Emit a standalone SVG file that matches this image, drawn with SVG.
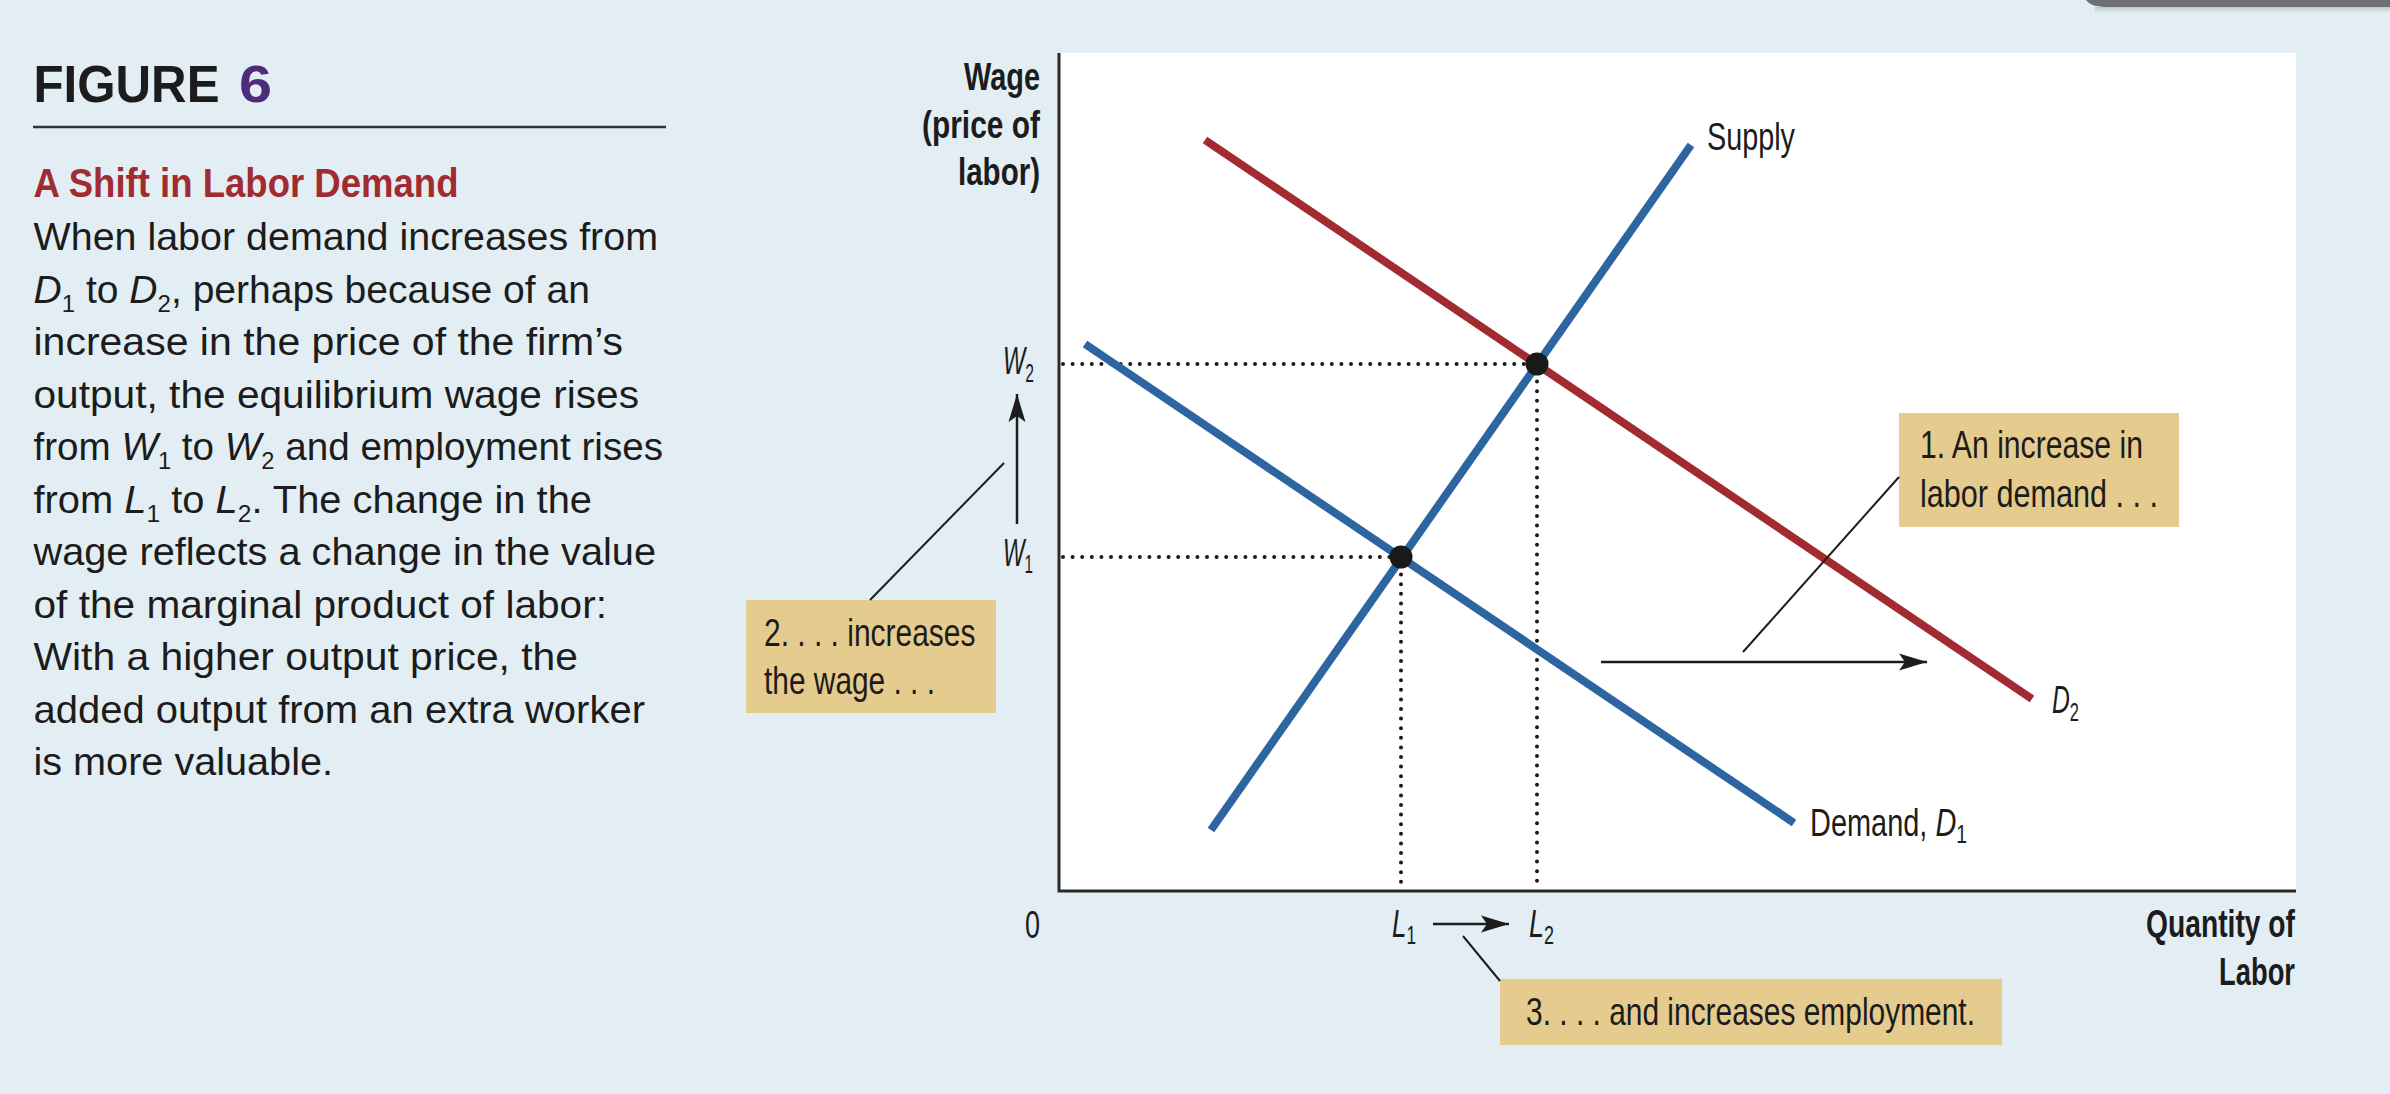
<svg xmlns="http://www.w3.org/2000/svg" width="2390" height="1094" viewBox="0 0 2390 1094">
<defs>
<style>
.t{font-family:"Liberation Sans",Arial,sans-serif;fill:#1c1c1c}
.body{font-size:39px}
.lbl{font-size:39px}
.ax{font-size:39px;font-weight:bold}
.i{font-style:italic}
.dot{stroke:#1a1a1a;stroke-width:4;stroke-linecap:round;stroke-dasharray:0 9.6;fill:none}
.curve{fill:none;stroke-width:8}
.blue{stroke:#2C65A0}
.red{stroke:#A12B31}
.lead{stroke:#1c1c1c;stroke-width:2;fill:none}
.arr{stroke:#1c1c1c;stroke-width:2.5;fill:none;marker-end:url(#ah)}
.box{fill:#E5CB8D}
.axis{stroke:#2b2b2b;stroke-width:3;fill:none}
</style>
<marker id="ah" markerUnits="userSpaceOnUse" viewBox="-29 -10 30 20" refX="0" refY="0" markerWidth="30" markerHeight="20" orient="auto">
<path d="M0,0 L-28,-8.5 L-22,0 L-28,8.5 Z" fill="#1c1c1c"/>
</marker>
<linearGradient id="sh" x1="0" y1="0" x2="0" y2="1">
<stop offset="0" stop-color="#b9c3c8"/>
<stop offset="1" stop-color="#E3EEF4" stop-opacity="0"/>
</linearGradient>
</defs>
<rect width="2390" height="1094" fill="#E3EEF4"/>
<g id="window-edge">
<rect x="2095" y="7" width="295" height="8" fill="url(#sh)"/>
<path d="M2086,0 C2090,5 2096,7 2108,7 L2390,7 L2390,0 Z" fill="#6E7275"/>
</g>
<g id="caption">
<text class="t" x="33.5" y="102" font-size="52" font-weight="bold" textLength="186" lengthAdjust="spacingAndGlyphs">FIGURE</text>
<text x="239" y="102" font-family="Liberation Sans,Arial,sans-serif" font-size="52" font-weight="bold" fill="#4D2C7C" textLength="33" lengthAdjust="spacingAndGlyphs">6</text>
<line x1="33" y1="127" x2="666" y2="127" stroke="#333" stroke-width="2.5"/>
<text x="33.5" y="197" font-family="Liberation Sans,Arial,sans-serif" font-size="41" font-weight="bold" fill="#A12B31" textLength="425" lengthAdjust="spacingAndGlyphs">A Shift in Labor Demand</text>
<text class="t body" x="33.5" y="250" textLength="624.5" lengthAdjust="spacingAndGlyphs">When labor demand increases from</text>
<text class="t body" x="33.5" y="302.5" textLength="556.5" lengthAdjust="spacingAndGlyphs"><tspan class="i">D</tspan><tspan font-size="24" dy="9">1</tspan><tspan dy="-9"> to </tspan><tspan class="i">D</tspan><tspan font-size="24" dy="9">2</tspan><tspan dy="-9">, perhaps because of an</tspan></text>
<text class="t body" x="33.5" y="355" textLength="589.5" lengthAdjust="spacingAndGlyphs">increase in the price of the firm’s</text>
<text class="t body" x="33.5" y="407.5" textLength="605.5" lengthAdjust="spacingAndGlyphs">output, the equilibrium wage rises</text>
<text class="t body" x="33.5" y="460" textLength="629.5" lengthAdjust="spacingAndGlyphs">from <tspan class="i">W</tspan><tspan font-size="24" dy="9">1</tspan><tspan dy="-9"> to </tspan><tspan class="i">W</tspan><tspan font-size="24" dy="9">2</tspan><tspan dy="-9"> and employment rises</tspan></text>
<text class="t body" x="33.5" y="512.5" textLength="558.5" lengthAdjust="spacingAndGlyphs">from <tspan class="i">L</tspan><tspan font-size="24" dy="9">1</tspan><tspan dy="-9"> to </tspan><tspan class="i">L</tspan><tspan font-size="24" dy="9">2</tspan><tspan dy="-9">. The change in the</tspan></text>
<text class="t body" x="33.5" y="565" textLength="622.5" lengthAdjust="spacingAndGlyphs">wage reflects a change in the value</text>
<text class="t body" x="33.5" y="617.5" textLength="573.5" lengthAdjust="spacingAndGlyphs">of the marginal product of labor:</text>
<text class="t body" x="33.5" y="670" textLength="544.5" lengthAdjust="spacingAndGlyphs">With a higher output price, the</text>
<text class="t body" x="33.5" y="722.5" textLength="611.5" lengthAdjust="spacingAndGlyphs">added output from an extra worker</text>
<text class="t body" x="33.5" y="775" textLength="299.5" lengthAdjust="spacingAndGlyphs">is more valuable.</text>
</g>
<g id="plot-area">
<rect x="1059" y="53" width="1237" height="838" fill="#ffffff"/>
<polyline class="axis" points="1059,53 1059,891 2296,891"/>
</g>
<g id="axis-labels">
<text class="t ax" x="1040" y="90" text-anchor="end" textLength="76" lengthAdjust="spacingAndGlyphs">Wage</text>
<text class="t ax" x="1040" y="138" text-anchor="end" textLength="118" lengthAdjust="spacingAndGlyphs">(price of</text>
<text class="t ax" x="1040" y="185" text-anchor="end" textLength="82" lengthAdjust="spacingAndGlyphs">labor)</text>
<text class="t ax" x="2295" y="937" text-anchor="end" textLength="149" lengthAdjust="spacingAndGlyphs">Quantity of</text>
<text class="t ax" x="2295" y="985" text-anchor="end" textLength="76" lengthAdjust="spacingAndGlyphs">Labor</text>
<text class="t lbl" x="1025" y="938" textLength="15" lengthAdjust="spacingAndGlyphs">0</text>
<text class="t lbl" x="1003" y="374" textLength="31" lengthAdjust="spacingAndGlyphs"><tspan class="i">W</tspan><tspan font-size="26" dy="8">2</tspan></text>
<text class="t lbl" x="1003" y="566" textLength="30" lengthAdjust="spacingAndGlyphs"><tspan class="i">W</tspan><tspan font-size="26" dy="7">1</tspan></text>
<text class="t lbl" x="1392" y="937" textLength="24" lengthAdjust="spacingAndGlyphs"><tspan class="i">L</tspan><tspan font-size="26" dy="7">1</tspan></text>
<text class="t lbl" x="1529" y="937" textLength="25" lengthAdjust="spacingAndGlyphs"><tspan class="i">L</tspan><tspan font-size="26" dy="7">2</tspan></text>
</g>
<g id="guides">
<line class="dot" x1="1063" y1="364" x2="1530" y2="364"/>
<line class="dot" x1="1063" y1="557" x2="1395" y2="557"/>
<line class="dot" x1="1537" y1="372" x2="1537" y2="889"/>
<line class="dot" x1="1401" y1="565" x2="1401" y2="889"/>
</g>
<g id="curve-supply">
<line class="curve blue" x1="1211" y1="830" x2="1691" y2="145"/>
<text class="t lbl" x="1707" y="150" textLength="88" lengthAdjust="spacingAndGlyphs">Supply</text>
</g>
<g id="curve-d1">
<line class="curve blue" x1="1085" y1="344" x2="1794" y2="823"/>
<text class="t lbl" x="1810" y="836" textLength="157" lengthAdjust="spacingAndGlyphs">Demand, <tspan class="i">D</tspan><tspan font-size="26" dy="7">1</tspan></text>
</g>
<g id="curve-d2">
<line class="curve red" x1="1205" y1="140" x2="2032" y2="699"/>
<text class="t lbl" x="2052" y="713" textLength="27" lengthAdjust="spacingAndGlyphs"><tspan class="i">D</tspan><tspan font-size="26" dy="8">2</tspan></text>
</g>
<g id="equilibria">
<circle cx="1401" cy="557" r="11.5" fill="#1a1a1a"/>
<circle cx="1537" cy="364" r="11.5" fill="#1a1a1a"/>
</g>
<g id="note-1">
<rect class="box" x="1899" y="413" width="280" height="114"/>
<text class="t lbl" x="1920" y="458" textLength="223" lengthAdjust="spacingAndGlyphs">1. An increase in</text>
<text class="t lbl" x="1920" y="507" textLength="238" lengthAdjust="spacingAndGlyphs">labor demand . . .</text>
</g>
<g id="note-2">
<rect class="box" x="746" y="600" width="250" height="113"/>
<text class="t lbl" x="764" y="646" textLength="211.5" lengthAdjust="spacingAndGlyphs">2. . . . increases</text>
<text class="t lbl" x="764" y="694" textLength="171" lengthAdjust="spacingAndGlyphs">the wage . . .</text>
</g>
<g id="note-3">
<rect class="box" x="1500" y="979" width="502" height="66"/>
<text class="t lbl" x="1526" y="1025" textLength="449" lengthAdjust="spacingAndGlyphs">3. . . . and increases employment.</text>
</g>
<g id="connectors">
<line class="lead" x1="1899" y1="477" x2="1743" y2="652"/>
<line class="lead" x1="870" y1="600" x2="1004" y2="463"/>
<line class="lead" x1="1500" y1="981" x2="1463" y2="936"/>
<line class="arr" x1="1601" y1="662" x2="1927" y2="662"/>
<line class="arr" x1="1017" y1="524" x2="1017" y2="394"/>
<line class="arr" x1="1433" y1="924" x2="1509" y2="924"/>
</g>
</svg>
